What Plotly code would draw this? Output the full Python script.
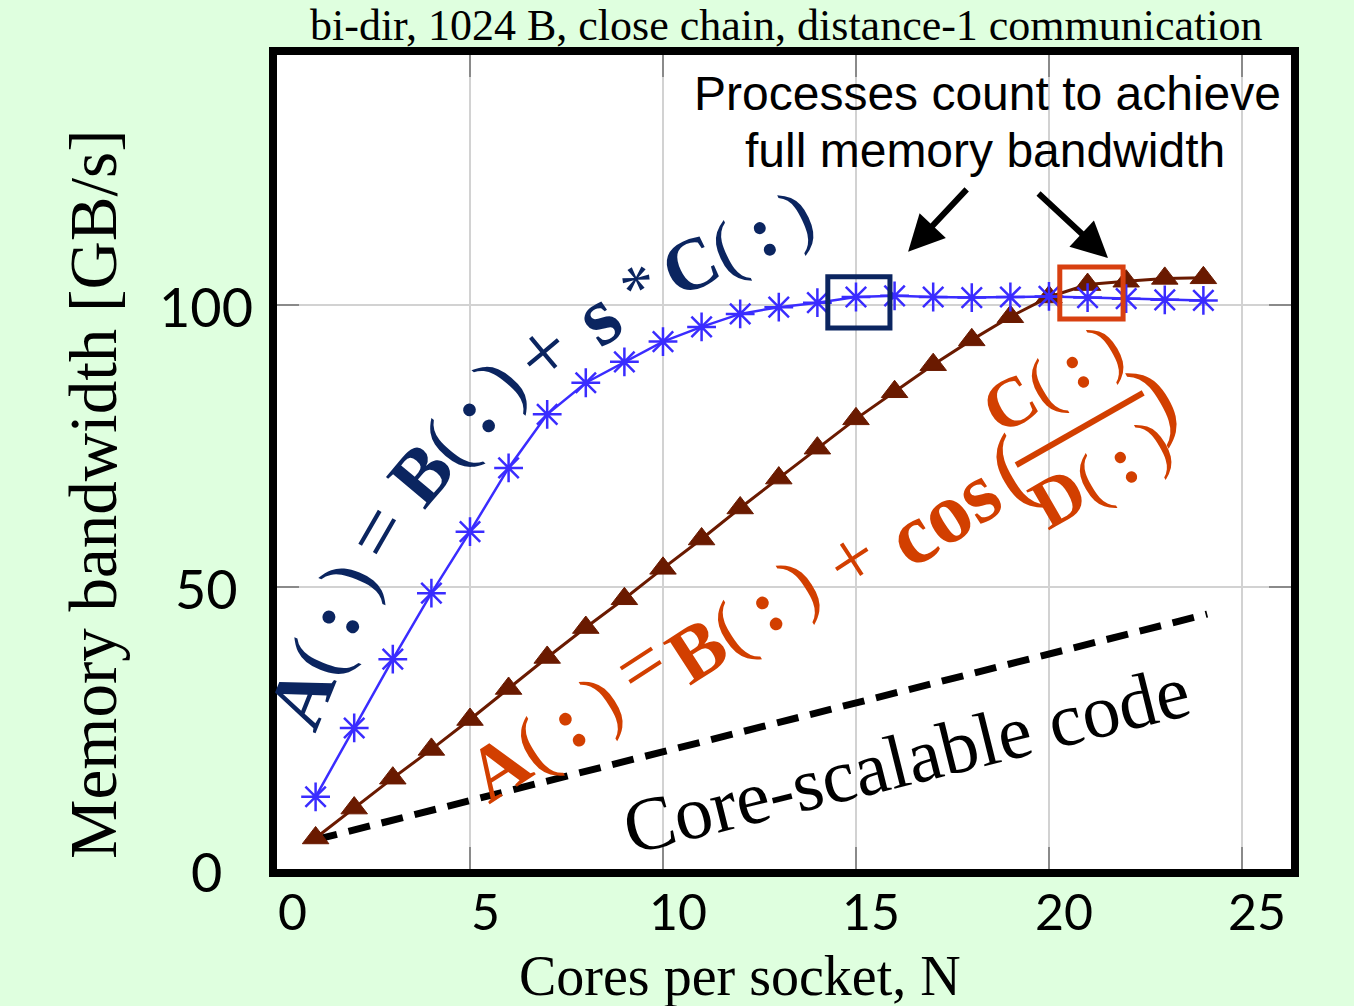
import plotly.graph_objects as go

# ---------------- data ----------------
cores = list(range(1, 25))
bw_triad = [12.8, 25.0, 37.2, 48.9, 59.8, 71.1, 80.6, 86.2, 89.9, 93.5, 96.1, 98.4,
            99.6, 100.4, 101.4, 101.6, 101.4, 101.3, 101.4, 101.5, 101.3, 101.1, 100.9, 100.8]
bw_cos = [5.5, 10.8, 16.1, 21.2, 26.5, 32.0, 37.5, 42.8, 47.9, 53.3, 58.5, 64.0,
          69.3, 74.6, 79.8, 84.6, 89.4, 93.8, 97.9, 101.4, 103.6, 104.2, 104.7, 104.8]
scal_x = [1, 24.1]
scal_y = [5.2, 45.2]

x_ticks = [0, 5, 10, 15, 20, 25]
y_ticks = [0, 50, 100]
x_tick_labels = ["0", "5", "10", "15", "20", "25"]
y_tick_labels = ["0", "50", "100"]

title_text = "bi-dir, 1024 B, close chain, distance-1 communication"
x_title = "Cores per socket, N"
y_title = "Memory bandwidth [GB/s]"

# ---------------- layout geometry ----------------
W, H = 1354, 1006
L, R, T, B = 277, 1291, 55, 869
XR = [0, 26.27]
YR = [0, 144.3]

def P(px, py):
    return (px - L) / (R - L), (B - py) / (B - T)

NAVY = "#0b2560"
ORANGE = "#d23f00"
BLUE = "#3a2cff"
BROWN = "#6a1a00"
SERIF = "Liberation Serif, Times New Roman, serif"
SANS = "Liberation Sans, Arial, sans-serif"
TICKF = "Lato, Open Sans, sans-serif"

fig = go.Figure()

fig.add_trace(go.Scatter(
    x=scal_x, y=scal_y, mode="lines",
    line=dict(color="black", width=7, dash="22px,12px"),
    showlegend=False, hoverinfo="skip"))

fig.add_trace(go.Scatter(
    x=cores, y=bw_cos, mode="lines+markers",
    line=dict(color=BROWN, width=3),
    marker=dict(symbol="triangle-up", size=23, color=BROWN,
                line=dict(color=BROWN, width=1)),
    showlegend=False))

fig.add_trace(go.Scatter(
    x=cores, y=bw_triad, mode="lines+markers",
    line=dict(color=BLUE, width=2.5),
    marker=dict(symbol="asterisk-open", size=24,
                line=dict(color=BLUE, width=2.5)),
    showlegend=False))

annotations = []

# tick labels via data coordinates
for v, t in zip(x_ticks, x_tick_labels):
    annotations.append(dict(x=v, y=0, xref="x", yref="paper", text=t, showarrow=False,
                            xanchor="center", yanchor="middle", xshift=15, yshift=-42,
                            font=dict(family=TICKF, size=50, color="black")))
for v, t in zip(y_ticks, y_tick_labels):
    annotations.append(dict(x=0, y=v, xref="paper", yref="y", text=t, showarrow=False,
                            xanchor="center", yanchor="middle", xshift=-71, yshift=-2,
                            font=dict(family=TICKF, size=54, color="black")))

def txt(px, py, text, size, color, angle=0, family=SERIF):
    x, y = P(px, py)
    annotations.append(dict(x=x, y=y, xref="paper", yref="paper", text=text,
                            showarrow=False, xanchor="center", yanchor="middle",
                            textangle=angle,
                            font=dict(family=family, size=size, color=color)))

# title & axis titles
txt(786, 26, title_text, 44, "black")
txt(740, 976, x_title, 56, "black")
txt(93, 495, y_title, 67, "black", angle=-90)

# note text
txt(987, 93, "Processes count to achieve", 48, "black", family=SANS)
txt(985, 150, "full memory bandwidth", 48, "black", family=SANS)

sp = "\u2009"
par = "(" + sp + "<b>:</b>" + sp + ")"
# navy formula
txt(322, 645, "<b>A</b>" + par, 80, NAVY, -68)
txt(376, 532, "=", 84, NAVY, -60)
txt(455, 432, "<b>B</b>" + par, 78, NAVY, -50)
txt(542, 352, "+", 84, NAVY, -40)
txt(597, 316, "<b>s</b>", 84, NAVY, -35)
txt(640, 286, "*", 66, NAVY, -32)
txt(737, 243, "<b>C</b>" + par, 74, NAVY, -25)

# orange formula
txt(544, 737, "<b>A</b>" + par, 78, ORANGE, -33)
txt(640, 665, "=", 80, ORANGE, -33)
txt(742, 620, "<b>B</b>" + par, 78, ORANGE, -33)
txt(851, 559, "+", 80, ORANGE, -33)
txt(943, 515, "<b>cos</b>", 86, ORANGE, -33)
txt(1010, 468, "(", 96, ORANGE, -30)
txt(1052, 378, "<b>C</b>" + par, 70, ORANGE, -30)
txt(1100, 473, "<b>D</b>" + par, 70, ORANGE, -30)
txt(1153, 396, ")", 96, ORANGE, -30)

# core-scalable code
txt(906, 759, "Core-scalable code", 76, "black", -14)

# arrows
annotations.append(dict(x=16.35, y=109.4, xref="x", yref="y", ax=60, ay=-64,
                        showarrow=True, arrowhead=2, arrowsize=1.2, arrowwidth=6,
                        arrowcolor="black", text=""))
annotations.append(dict(x=21.53, y=108.3, xref="x", yref="y", ax=-71, ay=-66,
                        showarrow=True, arrowhead=2, arrowsize=1.2, arrowwidth=6,
                        arrowcolor="black", text=""))

shapes = [
    # white band hiding gridlines (behind data)
    dict(type="rect", xref="paper", yref="y", x0=0, x1=1, y0=112.8, y1=134.6,
         fillcolor="white", line=dict(width=0), layer="below"),
    # highlight boxes
    dict(type="rect", xref="x", yref="y", x0=14.27, x1=15.88, y0=95.9, y1=105.0,
         line=dict(color=NAVY, width=5), layer="above"),
    dict(type="rect", xref="x", yref="y", x0=20.28, x1=21.92, y0=97.5, y1=106.7,
         line=dict(color="#d84010", width=5), layer="above"),
    # fraction bar
    dict(type="line", xref="x", yref="y", x0=19.15, y0=71.6, x1=22.44, y1=84.4,
         line=dict(color=ORANGE, width=6), layer="above"),
]

axis_common = dict(showline=True, linecolor="black", linewidth=8, mirror="allticks",
                   ticks="inside", ticklen=22, tickwidth=1.5, tickcolor="#8a8a8a",
                   showgrid=True, gridcolor="#d2d2d2", gridwidth=1.5,
                   zeroline=False, showticklabels=False)

fig.update_layout(
    width=W, height=H,
    margin=dict(l=L, r=W - R, t=T, b=H - B),
    paper_bgcolor="#dfffdf", plot_bgcolor="white",
    xaxis=dict(range=XR, tickvals=x_ticks, **axis_common),
    yaxis=dict(range=YR, tickvals=y_ticks, **axis_common),
    annotations=annotations, shapes=shapes,
    showlegend=False,
)

fig.write_html("out.html")
